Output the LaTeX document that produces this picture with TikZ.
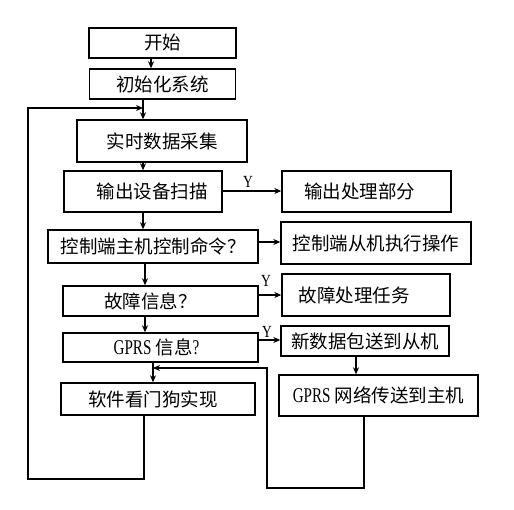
\documentclass[tikz,border=0pt]{standalone}
\usepackage{fontspec}
\newfontfamily\cjk{Noto Sans CJK SC}
\newfontfamily\lat[FakeStretch=0.8]{Liberation Serif}
\newfontfamily\latn[FakeStretch=0.72]{Liberation Serif}
\usetikzlibrary{arrows.meta}
\begin{document}
\begin{tikzpicture}[x=1pt,y=-1pt,
 box/.style={draw, line width=1.4pt, inner sep=0pt, font=\cjk\fontsize{18.5}{20}\selectfont},
 arr/.style={line width=1.4pt, -{Stealth[length=7pt,width=6pt]}},
 ylab/.style={font=\lat\fontsize{17}{18}\selectfont, inner sep=0pt}]
\newcommand{\gp}{{\latn\fontsize{21}{22}\selectfont GPRS}}
\useasboundingbox (0,0) rectangle (514,510);
% left column
\node[box, minimum width=147pt, minimum height=30pt] (start) at (162.5,43) {开始};
\node[box, minimum width=146pt, minimum height=30pt] (init) at (162.5,84) {初始化系统};
\node[box, minimum width=170pt, minimum height=42pt] (collect) at (162,141) {实时数据采集};
\node[box, minimum width=158pt, minimum height=41pt] (scan) at (143,191.5) {\hspace*{18pt}输出设备扫描};
\node[box, minimum width=210pt, minimum height=33pt] (ctrl) at (153,246.5) {控制端主机控制命令？};
\node[box, minimum width=195pt, minimum height=30pt] (fault) at (160.5,301) {故障信息？\hspace*{20pt}};
\node[box, minimum width=195pt, minimum height=29pt] (gprs) at (160.5,347.5) {\gp\ 信息{\latn\fontsize{21}{22}\selectfont ?}\hspace*{8pt}};
\node[box, minimum width=194pt, minimum height=32pt] (wdog) at (158,399) {软件看门狗实现\hspace*{10pt}};
% right column
\node[box, minimum width=169pt, minimum height=41pt] (outp) at (366.5,191.5) {输出处理部分\hspace*{14pt}};
\node[box, minimum width=190pt, minimum height=42pt] (slave) at (376,243) {控制端从机执行操作};
\node[box, minimum width=168pt, minimum height=42pt] (faultp) at (366,295) {故障处理任务\hspace*{24pt}};
\node[box, minimum width=168pt, minimum height=30pt] (newpkt) at (365,341) {新数据包送到从机};
\node[box, minimum width=199pt, minimum height=41pt] (gnet) at (378.5,395.5) {\gp\ 网络传送到主机};
% helper coordinates
\coordinate (c151) at (151,0);
\coordinate (c143) at (143,0);
\coordinate (c145) at (145,0);
\coordinate (c153) at (153,0);
\coordinate (c144) at (144,0);
\coordinate (c356) at (356,0);
\coordinate (c364) at (364,0);
\coordinate (r191) at (0,191);
\coordinate (r242) at (0,242);
\coordinate (r295) at (0,295);
\coordinate (r340) at (0,340);
% main flow
\draw[arr] (start.south -| c151) -- (init.north -| c151);
\draw[arr] (init.south -| c143) -- (collect.north -| c143);
\draw[arr] (collect.south -| c143) -- (scan.north -| c143);
\draw[arr] (scan.south -| c143) -- (ctrl.north -| c143);
\draw[arr] (ctrl.south -| c145) -- (fault.north -| c145);
\draw[arr] (fault.south -| c145) -- (gprs.north -| c145);
\draw[arr] (gprs.south -| c153) -- (wdog.north -| c153);
% branches
\draw[arr] (scan.east |- r191) -- (outp.west |- r191);
\node[ylab] (y1) at (248,182) {Y};
\draw[arr] (ctrl.east |- r242) -- (slave.west |- r242);
\draw[arr] (fault.east |- r295) -- (faultp.west |- r295);
\node[ylab] (y2) at (266,281) {Y};
\draw[arr] (gprs.east |- r340) -- (newpkt.west |- r340);
\node[ylab] (y3) at (267,332) {Y};
\draw[arr] (newpkt.south -| c356) -- (gnet.north -| c356);
% loops
\coordinate (lb) at (28,479);
\coordinate (lt) at (28,108);
\coordinate (jn) at (143,108);
\draw[arr] (wdog.south -| c144) -- (c144 |- lb) -- (lb) -- (lt) -- (jn);
\coordinate (rb) at (267,488);
\coordinate (rt) at (267,368);
\coordinate (jn2) at (153,368);
\draw[arr] (gnet.south -| c364) -- (c364 |- rb) -- (rb) -- (rt) -- (jn2);
\end{tikzpicture}
\end{document}
